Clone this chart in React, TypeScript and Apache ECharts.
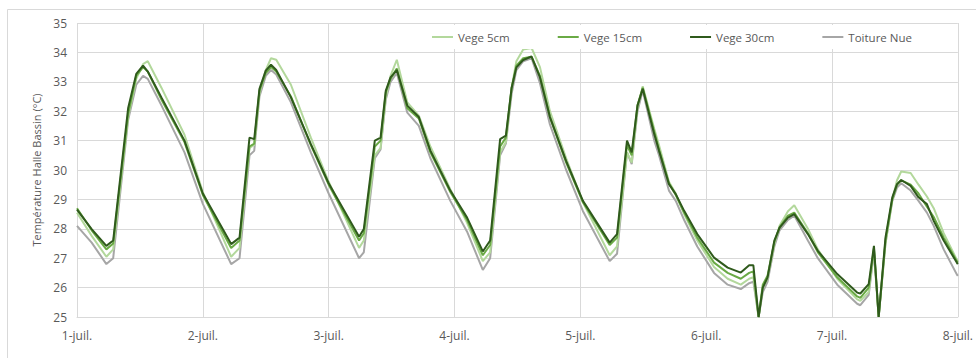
import React, { useEffect, useRef } from "react";
import * as echarts from "echarts";

// Hours elapsed since 1 July 00:00
const hours = [
  0, 2.8, 5.6, 6.9, 9.75, 11.3, 12.6, 13.5, 16.1, 20.5, 24, 29.4, 31, 32.9, 33.8, 34.8, 36, 37, 38, 40.8, 44.6, 48,
  53.8, 54.7, 56.8, 57.9, 58.9, 59.8, 61, 63, 65.2, 67.4, 71.2, 74.4, 77.4, 78.8, 80.7, 81.8, 82.9, 83.8, 85.1, 86.7,
  88.3, 90.2, 93.3, 96.5, 101.6, 103, 104.9, 105.8, 106.9, 107.9, 110.1, 111, 112.9, 114.2, 115.8, 118.3, 121.5,
  124.1, 126.6, 128.2, 129, 130, 130.8, 131.7, 133, 134, 135.6, 136.8, 139.4, 141.3, 145, 148.8, 149.4, 151, 152,
  152.9, 154.2, 155.5, 156.4, 157.2, 159, 160.5, 162.1, 163.4, 165.3, 167.8, 168,
];

const vege5 = [
  28.55, 27.76, 27.05, 27.3, 31.8, 33.1, 33.6, 33.7, 32.8, 31.2, 29.25, 27.05, 27.35, 30.75, 30.85, 32.6, 33.4, 33.8, 33.75, 32.9, 31.1, 29.6,
  27.35, 27.6, 30.5, 30.75, 32.5, 33.2, 33.75, 32.3, 31.85, 30.8, 29.35, 28.2, 26.9, 27.2, 30.6, 30.95, 32.8, 33.7, 34.1, 34.15,
  33.5, 32.0, 30.4, 28.9, 27.1, 27.4, 30.6, 30.25, 32.1, 32.85, 31.4, 30.85, 29.6, 29.2, 28.5, 27.6, 26.7,
  26.3, 26.1, 26.3, 26.35, 25.0, 26.0, 26.3, 27.5, 28.1, 28.6, 28.8, 28.0, 27.3, 26.3, 25.6, 25.55, 25.85, 27.3,
  25.0, 27.5, 29.0, 29.65, 29.95, 29.9, 29.5, 29.1, 28.7, 27.85, 26.95, 26.9,
];

const vege15 = [
  28.7, 27.95, 27.3, 27.5, 31.9, 33.2, 33.5, 33.35, 32.4, 30.95, 29.15, 27.35, 27.6, 30.8, 30.9, 32.7, 33.3, 33.5, 33.35, 32.5, 30.85, 29.5,
  27.6, 27.85, 30.8, 31.0, 32.65, 33.1, 33.45, 32.1, 31.75, 30.6, 29.25, 28.3, 27.1, 27.45, 30.8, 31.1, 32.8, 33.55, 33.8, 33.85,
  33.2, 31.8, 30.25, 28.9, 27.45, 27.7, 30.85, 30.5, 32.2, 32.8, 31.3, 30.7, 29.55, 29.15, 28.55, 27.7, 26.85,
  26.5, 26.3, 26.5, 26.55, 25.0, 26.1, 26.4, 27.55, 28.05, 28.45, 28.55, 27.85, 27.2, 26.35, 25.7, 25.65, 26.0, 27.35,
  25.0, 27.6, 29.0, 29.5, 29.65, 29.5, 29.2, 28.75, 28.4, 27.7, 26.9, 26.85,
];

const vege30 = [
  28.65, 27.99, 27.42, 27.6, 32.1, 33.27, 33.55, 33.35, 32.47, 31.0, 29.2, 27.48, 27.7, 31.1, 31.05, 32.76, 33.38, 33.58, 33.4, 32.47, 30.88, 29.55,
  27.73, 27.99, 31.0, 31.1, 32.7, 33.15, 33.4, 32.19, 31.8, 30.66, 29.3, 28.38, 27.23, 27.6, 31.05, 31.17, 32.8, 33.49, 33.74, 33.86,
  33.15, 31.8, 30.3, 28.95, 27.53, 27.82, 31.0, 30.6, 32.19, 32.76, 31.22, 30.66, 29.52, 29.18, 28.61, 27.82, 27.02,
  26.68, 26.51, 26.76, 26.76, 25.0, 26.0, 26.34, 27.6, 28.04, 28.38, 28.5, 27.82, 27.25, 26.46, 25.83, 25.8, 26.12, 27.42,
  25.0, 27.7, 29.07, 29.52, 29.66, 29.46, 29.07, 28.84, 28.27, 27.6, 26.85, 26.8,
];

const toitureNue = [
  28.1, 27.53, 26.8, 27.0, 31.7, 32.9, 33.2, 33.1, 32.2, 30.6, 28.85, 26.8, 27.0, 30.5, 30.65, 32.5, 33.2, 33.4, 33.25, 32.3, 30.6, 29.2,
  27.0, 27.2, 30.4, 30.7, 32.4, 33.0, 33.3, 31.95, 31.5, 30.4, 28.95, 27.9, 26.6, 27.0, 30.5, 30.9, 32.6, 33.4, 33.7, 33.8,
  32.95, 31.55, 30.0, 28.6, 26.9, 27.15, 30.6, 30.2, 32.0, 32.7, 31.0, 30.5, 29.3, 28.95, 28.3, 27.4, 26.5,
  26.1, 25.95, 26.15, 26.2, 25.0, 25.85, 26.2, 27.4, 27.95, 28.3, 28.45, 27.6, 27.0, 26.1, 25.45, 25.4, 25.75, 27.2,
  25.0, 27.5, 28.95, 29.4, 29.55, 29.3, 28.95, 28.55, 28.1, 27.3, 26.45, 26.4,
];

const dayLabels = ["1-juil.", "2-juil.", "3-juil.", "4-juil.", "5-juil.", "6-juil.", "7-juil.", "8-juil."];

const seriesNames = ["Vege 5cm", "Vege 15cm", "Vege 30cm", "Toiture Nue"];

const FONT = "'Open Sans', 'Noto Sans', sans-serif";
const TEXT = "#595959";
const GRID = "#d9d9d9";

function pairs(values: number[]) {
  return values.map((v, i) => [hours[i], v]);
}

export default function App() {
  const ref = useRef<HTMLDivElement>(null);

  useEffect(() => {
    if (!ref.current) return;
    const chart = echarts.init(ref.current, undefined, { renderer: "svg" });

    const line = (name: string, values: number[], color: string, width: number) => ({
      name,
      type: "line",
      data: pairs(values),
      showSymbol: false,
      symbol: "none",
      lineStyle: { color, width },
      itemStyle: { color },
    });

    chart.setOption({
      animation: false,
      backgroundColor: "#ffffff",
      textStyle: { fontFamily: FONT },
      graphic: [
        {
          type: "rect",
          shape: { x: 7.5, y: 9.5, width: 980, height: 360 },
          style: { fill: "none", stroke: GRID, lineWidth: 1 },
          silent: true,
          z: -10,
        },
      ],
      legend: {
        data: seriesNames,
        top: 25,
        left: 425,
        itemGap: 48,
        itemWidth: 21,
        itemHeight: 2,
        icon: "rect",
        backgroundColor: "#ffffff",
        padding: [6, 8, 6, 7],
        textStyle: { color: TEXT, fontSize: 11.5, fontFamily: FONT },
      },
      grid: { left: 77, right: 15, top: 23, bottom: 41, containLabel: false },
      xAxis: {
        type: "value",
        min: 0,
        max: 168,
        interval: 24,
        axisLine: { show: true, lineStyle: { color: GRID } },
        axisTick: { show: false },
        splitLine: { show: true, lineStyle: { color: GRID } },
        axisLabel: {
          color: TEXT,
          fontSize: 12,
          margin: 12,
          fontFamily: FONT,
          formatter: (v: number) => dayLabels[Math.round(v / 24)] ?? "",
        },
      },
      yAxis: {
        type: "value",
        min: 25,
        max: 35,
        interval: 1,
        name: "Température Halle Bassin (°C)",
        nameLocation: "middle",
        nameGap: 31,
        nameTextStyle: { color: TEXT, fontSize: 11, fontFamily: FONT },
        axisLine: { show: false },
        axisTick: { show: false },
        splitLine: { show: true, lineStyle: { color: GRID } },
        axisLabel: { color: TEXT, fontSize: 12, margin: 10, fontFamily: FONT },
      },
      series: [
        line("Toiture Nue", toitureNue, "#a6a6a6", 2),
        line("Vege 5cm", vege5, "#b3d89c", 2),
        line("Vege 15cm", vege15, "#6aaa45", 2),
        line("Vege 30cm", vege30, "#2f5a1c", 2),
      ],
    });

    return () => chart.dispose();
  }, []);

  return (
    <div
      ref={ref}
      style={{ position: "fixed", left: 0, top: 0, width: 976, height: 358 }}
    />
  );
}
